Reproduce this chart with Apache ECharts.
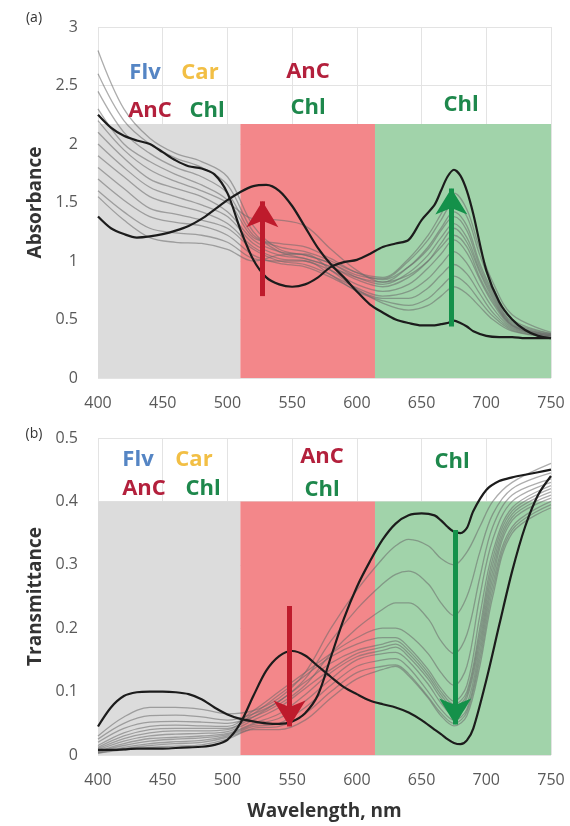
<!DOCTYPE html>
<html>
<head>
<meta charset="utf-8">
<script src="https://cdn.jsdelivr.net/npm/echarts@6/dist/echarts.min.js"></script>
<style>
html,body{margin:0;padding:0;background:#fff;}
#chart{width:570px;height:826px;}
</style>
</head>
<body>
<div id="chart"></div>
<script>
// ---------- Data ----------
const wavelengths = [400,410,420,430,440,450,460,470,480,490,500,510,520,530,540,550,560,570,580,590,600,610,620,630,640,650,660,665,670,675,680,685,690,700,710,720,730,740,750];

// (a) Absorbance, two highlighted (black) spectra
const absHighChl = [2.25,2.14,2.07,2.03,2.00,1.93,1.86,1.81,1.79,1.74,1.58,1.27,1.01,0.86,0.80,0.78,0.80,0.86,0.95,0.99,1.01,1.06,1.12,1.15,1.18,1.35,1.48,1.60,1.72,1.78,1.73,1.60,1.40,0.92,0.65,0.50,0.41,0.36,0.34];
const absHighAnc = [1.38,1.28,1.23,1.20,1.21,1.23,1.26,1.30,1.36,1.44,1.52,1.59,1.64,1.65,1.60,1.47,1.29,1.11,0.97,0.86,0.74,0.63,0.56,0.50,0.47,0.45,0.45,0.46,0.47,0.49,0.47,0.44,0.40,0.36,0.35,0.35,0.34,0.34,0.34];

// (b) Transmittance, two highlighted (black) spectra
const transHighAnc = [0.045,0.075,0.093,0.099,0.100,0.100,0.099,0.096,0.088,0.075,0.064,0.057,0.053,0.050,0.049,0.053,0.066,0.095,0.155,0.215,0.265,0.305,0.340,0.365,0.378,0.381,0.378,0.370,0.360,0.352,0.350,0.358,0.385,0.418,0.432,0.438,0.442,0.446,0.450];
const transHighChl = [0.008,0.008,0.009,0.010,0.010,0.010,0.011,0.012,0.013,0.016,0.024,0.050,0.093,0.133,0.156,0.164,0.157,0.140,0.123,0.107,0.096,0.086,0.080,0.075,0.067,0.055,0.040,0.033,0.025,0.019,0.017,0.023,0.042,0.118,0.205,0.290,0.360,0.410,0.440];

// Grey spectra, (a)
const absGreyWl = [400,420,440,460,480,500,520,540,560,580,600,620,640,655,665,675,685,695,705,720,750];
const absGrey1  = [2.80,2.30,2.05,1.92,1.85,1.72,1.30,1.10,1.05,0.98,0.88,0.85,1.00,1.18,1.35,1.50,1.38,1.05,0.78,0.50,0.38];
const absGrey2  = [2.60,2.20,2.00,1.88,1.80,1.65,1.25,1.08,1.02,0.95,0.86,0.82,0.95,1.12,1.28,1.42,1.30,0.98,0.74,0.48,0.38];
const absGrey3  = [2.45,2.10,1.92,1.80,1.72,1.58,1.22,1.12,1.08,1.00,0.90,0.86,1.02,1.22,1.40,1.58,1.44,1.10,0.82,0.54,0.39];
const absGrey4  = [2.30,2.00,1.85,1.74,1.65,1.52,1.20,1.15,1.12,1.02,0.90,0.84,0.95,1.10,1.26,1.38,1.26,0.95,0.72,0.47,0.37];
const absGrey5  = [2.20,1.95,1.78,1.68,1.60,1.50,1.36,1.35,1.30,1.10,0.92,0.82,0.88,1.00,1.12,1.22,1.12,0.86,0.66,0.45,0.37];
const absGrey6  = [2.10,1.88,1.70,1.62,1.55,1.42,1.18,1.08,1.05,0.98,0.86,0.80,0.90,1.05,1.20,1.32,1.20,0.92,0.70,0.46,0.37];
const absGrey7  = [2.00,1.80,1.63,1.55,1.48,1.38,1.15,1.05,1.02,0.95,0.84,0.78,0.86,1.00,1.15,1.28,1.16,0.90,0.68,0.45,0.36];
const absGrey8  = [1.90,1.72,1.55,1.48,1.42,1.32,1.12,1.02,1.00,0.92,0.80,0.74,0.80,0.94,1.06,1.18,1.07,0.84,0.64,0.44,0.36];
const absGrey9  = [1.80,1.62,1.45,1.40,1.35,1.28,1.10,1.00,0.97,0.88,0.77,0.70,0.74,0.85,0.97,1.08,0.98,0.78,0.60,0.43,0.36];
const absGrey10 = [1.70,1.52,1.38,1.33,1.30,1.22,1.05,0.98,0.95,0.86,0.75,0.68,0.68,0.77,0.88,0.97,0.89,0.72,0.56,0.42,0.36];
const absGrey11 = [1.60,1.42,1.28,1.24,1.22,1.16,1.02,1.00,1.00,0.88,0.74,0.66,0.62,0.68,0.78,0.87,0.80,0.66,0.53,0.41,0.35];
const absGrey12 = [1.55,1.35,1.20,1.16,1.15,1.10,1.00,1.05,1.06,0.92,0.76,0.64,0.58,0.62,0.70,0.78,0.72,0.61,0.50,0.40,0.35];

// Grey spectra, (b)
const transGreyWl = [400,420,440,460,480,500,520,540,560,580,600,620,630,640,655,665,675,685,695,705,720,750];
const transGrey1  = [0.030,0.060,0.075,0.075,0.072,0.065,0.070,0.090,0.130,0.200,0.260,0.310,0.330,0.340,0.330,0.310,0.300,0.320,0.360,0.400,0.430,0.460];
const transGrey2  = [0.025,0.050,0.062,0.063,0.060,0.055,0.065,0.085,0.120,0.180,0.230,0.270,0.285,0.290,0.270,0.240,0.220,0.250,0.320,0.380,0.420,0.445];
const transGrey3  = [0.020,0.042,0.052,0.053,0.052,0.050,0.060,0.080,0.110,0.160,0.200,0.230,0.240,0.240,0.215,0.180,0.160,0.190,0.280,0.360,0.410,0.435];
const transGrey4  = [0.015,0.035,0.045,0.047,0.046,0.045,0.070,0.100,0.130,0.160,0.185,0.200,0.200,0.190,0.160,0.130,0.110,0.140,0.250,0.340,0.400,0.430];
const transGrey5  = [0.012,0.030,0.040,0.042,0.042,0.042,0.065,0.095,0.125,0.155,0.175,0.185,0.185,0.170,0.135,0.105,0.085,0.110,0.220,0.320,0.390,0.425];
const transGrey6  = [0.010,0.026,0.035,0.038,0.038,0.040,0.060,0.085,0.115,0.145,0.165,0.175,0.180,0.165,0.130,0.100,0.080,0.100,0.200,0.310,0.385,0.420];
const transGrey7  = [0.008,0.022,0.030,0.033,0.034,0.037,0.055,0.075,0.105,0.135,0.160,0.170,0.175,0.160,0.125,0.095,0.075,0.095,0.190,0.300,0.380,0.415];
const transGrey8  = [0.006,0.018,0.026,0.028,0.030,0.034,0.050,0.065,0.095,0.130,0.155,0.165,0.170,0.155,0.120,0.090,0.070,0.090,0.180,0.290,0.375,0.410];
const transGrey9  = [0.005,0.015,0.022,0.025,0.027,0.032,0.048,0.058,0.085,0.120,0.150,0.160,0.162,0.148,0.112,0.082,0.062,0.080,0.170,0.280,0.370,0.405];
const transGrey10 = [0.004,0.012,0.018,0.021,0.023,0.030,0.045,0.050,0.075,0.110,0.140,0.150,0.152,0.138,0.100,0.072,0.055,0.072,0.160,0.270,0.360,0.400];
const transGrey11 = [0.003,0.010,0.015,0.018,0.020,0.028,0.042,0.045,0.065,0.100,0.130,0.140,0.142,0.128,0.092,0.066,0.050,0.068,0.150,0.260,0.355,0.395];
const transGrey12 = [0.003,0.008,0.012,0.014,0.016,0.025,0.040,0.040,0.055,0.090,0.120,0.135,0.140,0.125,0.090,0.062,0.046,0.062,0.140,0.250,0.350,0.390];

// Spectral bands (nm) and shaded heights
const bandEdges = [400, 510, 614, 750];
const absShadeTop = 2.17;
const transShadeTop = 0.4;

// Arrows [wavelength, from, to]
const absArrowAnc = [527, 0.70, 1.51];
const absArrowChl = [673, 0.44, 1.62];
const transArrowAnc = [548, 0.235, 0.045];
const transArrowChl = [676, 0.355, 0.048];

const xTicks = [400, 450, 500, 550, 600, 650, 700, 750];

// ---------- Chart ----------
const absGreys = [absGrey1,absGrey2,absGrey3,absGrey4,absGrey5,absGrey6,absGrey7,absGrey8,absGrey9,absGrey10,absGrey11,absGrey12];
const transGreys = [transGrey1,transGrey2,transGrey3,transGrey4,transGrey5,transGrey6,transGrey7,transGrey8,transGrey9,transGrey10,transGrey11,transGrey12];

const pair = (xs, ys) => xs.map((x, i) => [x, ys[i]]);
const FONT = 'Open Sans';
const C_GREY = '#dcdcdc', C_RED = '#f3878a', C_GREEN = '#a1d3aa';

function bands(top) {
  const cols = [C_GREY, C_RED, C_GREEN];
  return cols.map((c, i) => [
    { coord: [bandEdges[i], 0], itemStyle: { color: c } },
    { coord: [bandEdges[i + 1], top] }
  ]);
}

const series = [];
// shaded bands
[[0, absShadeTop], [1, transShadeTop]].forEach(([g, top]) => {
  series.push({
    type: 'line', xAxisIndex: g, yAxisIndex: g, data: [], z: 0, silent: true,
    markArea: { silent: true, itemStyle: { opacity: 1 }, data: bands(top) }
  });
});
// grey curves
absGreys.forEach(arr => series.push({
  type: 'line', xAxisIndex: 0, yAxisIndex: 0, data: pair(absGreyWl, arr), smooth: 0.35,
  showSymbol: false, z: 2, lineStyle: { color: 'rgba(105,105,105,0.55)', width: 1.3 }
}));
transGreys.forEach(arr => series.push({
  type: 'line', xAxisIndex: 1, yAxisIndex: 1, data: pair(transGreyWl, arr), smooth: 0.35,
  showSymbol: false, z: 2, lineStyle: { color: 'rgba(105,105,105,0.55)', width: 1.3 }
}));
// black curves
[[0, absHighChl], [0, absHighAnc], [1, transHighAnc], [1, transHighChl]].forEach(([g, arr]) => series.push({
  type: 'line', xAxisIndex: g, yAxisIndex: g, data: pair(wavelengths, arr), smooth: 0.3,
  showSymbol: false, z: 3, lineStyle: { color: '#1c1c1c', width: 2.2 }
}));
// arrows
function arrow(g, a, color) {
  return {
    type: 'line', xAxisIndex: g, yAxisIndex: g, data: [], z: 5, silent: true,
    markLine: {
      silent: true, symbol: ['none', 'arrow'], symbolSize: [24, 26],
      label: { show: false },
      lineStyle: { color: color, width: 5, type: 'solid' },
      data: [[{ coord: [a[0], a[1]] }, { coord: [a[0], a[2]] }]]
    }
  };
}
series.push(arrow(0, absArrowAnc, '#be1b2c'));
series.push(arrow(0, absArrowChl, '#14914a'));
series.push(arrow(1, transArrowAnc, '#be1b2c'));
series.push(arrow(1, transArrowChl, '#14914a'));

const axisLabel = { color: '#595959', fontSize: 16, fontFamily: FONT };
const splitLine = { show: true, lineStyle: { color: '#e3e3e3', width: 1 } };

function xAxis(g, named) {
  return {
    type: 'value', gridIndex: g, min: 400, max: 750, interval: 50, z: 1,
    axisLine: { show: false }, axisTick: { show: false },
    axisLabel: Object.assign({ margin: 17 }, axisLabel),
    splitLine: splitLine,
    name: named ? 'Wavelength, nm' : '', nameLocation: 'middle', nameGap: 47,
    nameTextStyle: { fontFamily: FONT, fontWeight: 'bold', fontSize: 19, color: '#333' }
  };
}
function yAxis(g, max, interval, name) {
  return {
    type: 'value', gridIndex: g, min: 0, max: max, interval: interval, z: 1,
    axisLine: { show: false }, axisTick: { show: false },
    axisLabel: Object.assign({ margin: 20 }, axisLabel),
    splitLine: splitLine,
    name: name, nameLocation: 'middle', nameGap: 52, nameRotate: 90,
    nameTextStyle: { fontFamily: FONT, fontWeight: 'bold', fontSize: 19, color: '#333' }
  };
}

function txt(text, x, y, color, size, weight) {
  return {
    type: 'text', x: x, y: y, z: 100,
    style: {
      text: text, fill: color, fontFamily: FONT, fontSize: size || 22, fontWeight: weight || 'bold',
      align: 'center', verticalAlign: 'middle', textAlign: 'center', textVerticalAlign: 'middle'
    }
  };
}
const BLUE = '#5585c4', YEL = '#f2bf45', RED = '#b3203c', GRN = '#1e884c';

const option = {
  animation: false,
  backgroundColor: '#fff',
  grid: [
    { left: 98, right: 19, top: 27, height: 351 },
    { left: 98, right: 19, top: 438, height: 317 }
  ],
  xAxis: [xAxis(0, false), xAxis(1, true)],
  yAxis: [yAxis(0, 3, 0.5, 'Absorbance'), yAxis(1, 0.5, 0.1, 'Transmittance')],
  series: series,
  graphic: [
    txt('(a)', 34, 18, '#333', 14, 'normal'),
    txt('(b)', 34, 434, '#333', 14, 'normal'),
    txt('Flv', 145, 73, BLUE), txt('Car', 200, 73, YEL),
    txt('AnC', 150, 111, RED), txt('Chl', 207, 111, GRN),
    txt('AnC', 308, 72, RED), txt('Chl', 308, 108, GRN),
    txt('Chl', 461, 105, GRN),
    txt('Flv', 138, 460, BLUE), txt('Car', 194, 460, YEL),
    txt('AnC', 144, 489, RED), txt('Chl', 203, 489, GRN),
    txt('AnC', 322, 457, RED), txt('Chl', 322, 490, GRN),
    txt('Chl', 452, 462, GRN)
  ]
};

const chart = echarts.init(document.getElementById('chart'), null, { renderer: 'canvas' });
chart.setOption(option);
</script>
</body>
</html>
